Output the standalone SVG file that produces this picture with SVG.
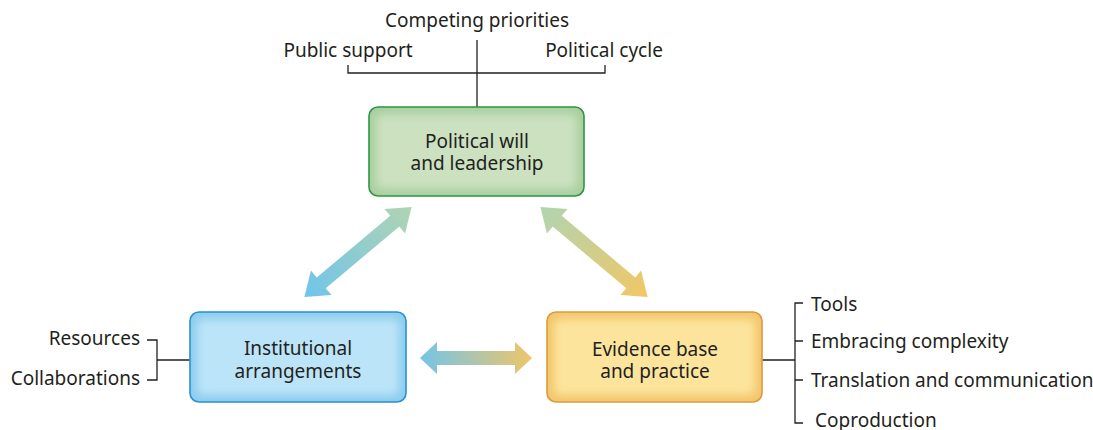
<svg xmlns="http://www.w3.org/2000/svg" width="1093" height="430" viewBox="0 0 1093 430">
<style>
text{font-family:"Noto Sans","Open Sans","Liberation Sans",sans-serif;font-size:19px;fill:#231f20}
.c{text-anchor:middle}
.r{text-anchor:end}
.ln{fill:none;stroke:#231f20;stroke-width:1.3}
</style>
<defs>
<filter id="blur" x="-10%" y="-20%" width="120%" height="140%"><feGaussianBlur stdDeviation="4"/></filter>
<linearGradient id="gL" gradientUnits="userSpaceOnUse" x1="-70" y1="0" x2="70" y2="0"><stop offset="0" stop-color="#70c4ec"/><stop offset="1" stop-color="#b0d4b2"/></linearGradient>
<linearGradient id="gR" gradientUnits="userSpaceOnUse" x1="-70" y1="0" x2="70" y2="0"><stop offset="0" stop-color="#b0d4b2"/><stop offset="1" stop-color="#f2c765"/></linearGradient>
<linearGradient id="gH" gradientUnits="userSpaceOnUse" x1="-56" y1="0" x2="56" y2="0"><stop offset="0" stop-color="#74c4e8"/><stop offset="1" stop-color="#eec66a"/></linearGradient>
</defs>
<g id="connectors">
<path class="ln" d="M477,40V107M348,65V73H605V65"/>
<path class="ln" d="M147,340H157V380H147M157,360H190"/>
<path class="ln" d="M762,360H795M803,303H795V423H803M795,341H803M795,380H803"/>
<path id="arrow-left" transform="translate(358,252) rotate(-40)" fill="url(#gL)" d="M-70,0L-48,-16L-48,-7L48,-7L48,-16L70,0L48,16L48,7L-48,7L-48,16Z"/>
<path id="arrow-right" transform="translate(594,252) rotate(40)" fill="url(#gR)" d="M-70,0L-48,-16L-48,-7L48,-7L48,-16L70,0L48,16L48,7L-48,7L-48,16Z"/>
<path id="arrow-h" transform="translate(476,358)" fill="url(#gH)" d="M-56,0L-39,-16L-39,-7L39,-7L39,-16L56,0L39,16L39,7L-39,7L-39,16Z"/>
</g>
<g id="labels-top">
<text class="c" x="477" y="27">Competing priorities</text>
<text class="c" x="348" y="57">Public support</text>
<text class="c" x="604" y="57">Political cycle</text>
</g>
<g id="node-political">
<rect x="369" y="107" width="215" height="89" rx="9" fill="#a8cf9f"/>
<rect x="376" y="114" width="201" height="75" rx="6" fill="#cbe1c0" filter="url(#blur)"/>
<rect x="369" y="107" width="215" height="89" rx="9" fill="none" stroke="#2f9446" stroke-width="1.6"/>
<text class="c" x="477" y="148">Political will</text>
<text class="c" x="477" y="170">and leadership</text>
</g>
<g id="node-institutional">
<rect x="190" y="312" width="216" height="90" rx="9" fill="#8dcdee"/>
<rect x="197" y="319" width="202" height="76" rx="6" fill="#bbe4f8" filter="url(#blur)"/>
<rect x="190" y="312" width="216" height="90" rx="9" fill="none" stroke="#2a8fd4" stroke-width="1.6"/>
<text class="c" x="298" y="355">Institutional</text>
<text class="c" x="298" y="378">arrangements</text>
</g>
<g id="node-evidence">
<rect x="547" y="312" width="215" height="90" rx="9" fill="#f3c66c"/>
<rect x="554" y="319" width="201" height="76" rx="6" fill="#fde49c" filter="url(#blur)"/>
<rect x="547" y="312" width="215" height="90" rx="9" fill="none" stroke="#d99c3c" stroke-width="1.6"/>
<text class="c" x="655" y="356">Evidence base</text>
<text class="c" x="655" y="378">and practice</text>
</g>
<g id="labels-left">
<text class="r" x="140" y="345">Resources</text>
<text class="r" x="140" y="385">Collaborations</text>
</g>
<g id="labels-right">
<text x="811" y="311">Tools</text>
<text x="811" y="348">Embracing complexity</text>
<text x="811" y="387">Translation and communication</text>
<text x="815" y="427">Coproduction</text>
</g>
</svg>
